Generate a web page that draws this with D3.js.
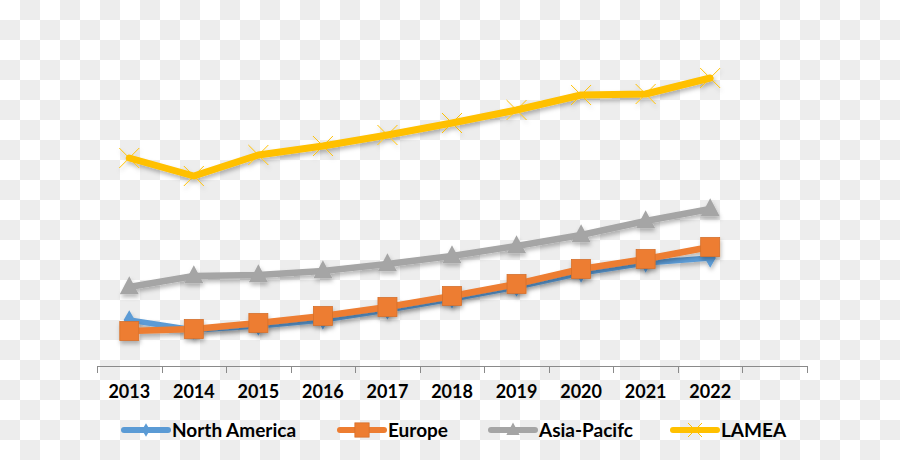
<!DOCTYPE html>
<html><head><meta charset="utf-8">
<script src="https://cdn.jsdelivr.net/npm/d3@7/dist/d3.min.js"></script>
<style>html,body{margin:0;padding:0;}svg{display:block;}</style>
</head><body>
<svg id="chart" width="900" height="460"></svg>
<script>
const years = ["2013","2014","2015","2016","2017","2018","2019","2020","2021","2022"];
const northAmerica = [10.0, 9.0, 9.4, 10.0, 11.0, 12.1, 13.3, 14.7, 15.7, 16.2];
const europe       = [8.9, 9.1, 9.7, 10.4, 11.3, 12.4, 13.6, 15.1, 16.1, 17.3];
const asiaPacific  = [13.3, 14.4, 14.5, 14.9, 15.6, 16.4, 17.4, 18.5, 19.9, 21.1];
const lamea        = [26.2, 24.4, 26.5, 27.4, 28.5, 29.7, 31.0, 32.5, 32.6, 34.2];
const seriesNames  = ["North America", "Europe", "Asia-Pacifc", "LAMEA"];

const W = 900, H = 460;
const svg = d3.select("#chart");
const defs = svg.append("defs");
const pat = defs.append("pattern").attr("id","checker").attr("patternUnits","userSpaceOnUse")
  .attr("width",40).attr("height",40);
pat.append("rect").attr("width",40).attr("height",40).attr("fill","#ffffff");
pat.append("rect").attr("x",20).attr("y",0).attr("width",20).attr("height",20).attr("fill","#ededed");
pat.append("rect").attr("x",0).attr("y",20).attr("width",20).attr("height",20).attr("fill","#ededed");
svg.append("rect").attr("width",W).attr("height",H).attr("fill","url(#checker)");

const f = defs.append("filter").attr("id","shadow").attr("x","-50%").attr("y","-50%").attr("width","200%").attr("height","200%");
f.append("feDropShadow").attr("dx",1).attr("dy",3).attr("stdDeviation",2).attr("flood-color","#000").attr("flood-opacity",0.28);

const x = d3.scaleBand().domain(years.concat([" "])).range([97, 807]);
const y = d3.scaleLinear().domain([0, 35]).range([420, 70]);

// axis
const axisY = 366;
const g = svg.append("g");
g.append("line").attr("x1",x.range()[0]).attr("x2",x.range()[1]).attr("y1",axisY+0.5).attr("y2",axisY+0.5)
  .attr("stroke","#8a8a8a").attr("stroke-width",1);
const bounds = x.domain().map(d => x(d)).concat([x.range()[1]]);
g.selectAll("line.tick").data(bounds).enter().append("line")
  .attr("x1",d=>Math.round(d)+0.5).attr("x2",d=>Math.round(d)+0.5).attr("y1",axisY).attr("y2",axisY+7)
  .attr("stroke","#8a8a8a").attr("stroke-width",1);
const ax = d3.axisBottom(x).tickSize(0).tickValues(years);
const axG = svg.append("g").attr("transform",`translate(0,${axisY})`).call(ax);
axG.select(".domain").remove();
axG.selectAll("text").attr("y",0).attr("dy","32px")
  .style("font-family","Lato, 'Open Sans', sans-serif").style("font-weight","bold").style("font-size","18px").attr("fill","#000");

const series = [
  {name: seriesNames[0], values: northAmerica, color:"#5B9BD5", width:5.5, marker:"diamond"},
  {name: seriesNames[1], values: europe, color:"#ED7D31", width:6.5, marker:"square"},
  {name: seriesNames[2], values: asiaPacific, color:"#A5A5A5", width:6.5, marker:"triangle"},
  {name: seriesNames[3], values: lamea, color:"#FFC000", width:7, marker:"x"}
];
const cx = d => x(d) + x.bandwidth()/2;
const line = d3.line().x(d=>cx(d.year)).y(d=>y(d.v));

function drawMarker(sel, type, color, scale) {
  scale = scale || 1;
  if (type === "diamond") {
    sel.append("path").attr("d", d3.symbol().type(d3.symbolDiamond).size(110*scale*scale)).attr("fill",color);
  } else if (type === "square") {
    const s = 19*scale;
    sel.append("rect").attr("x",-s/2).attr("y",-s/2).attr("width",s).attr("height",s).attr("fill",color)
      .attr("stroke", d3.color(color).darker(0.3)).attr("stroke-width",0.8);
  } else if (type === "triangle") {
    const w = 19*scale, h = 18*scale;
    sel.append("path").attr("d",`M0,${-h*0.6}L${w/2},${h*0.4}L${-w/2},${h*0.4}Z`).attr("fill",color);
  } else if (type === "x") {
    const r = 10*scale;
    sel.append("path").attr("d",`M${-r},${-r}L${r},${r}M${-r},${r}L${r},${-r}`)
      .attr("stroke",color).attr("stroke-width",1).attr("fill","none");
  }
}

series.forEach(s => {
  const pts = years.map((yr,i)=>({year:yr, v:s.values[i]}));
  const sg = svg.append("g").attr("filter","url(#shadow)");
  sg.append("path").datum(pts).attr("d",line).attr("fill","none").attr("stroke",s.color)
    .attr("stroke-width",s.width).attr("stroke-linejoin","round").attr("stroke-linecap","round");
  sg.selectAll("g.m").data(pts).enter().append("g")
    .attr("transform",d=>`translate(${cx(d.year)},${y(d.v)})`)
    .each(function(){ drawMarker(d3.select(this), s.marker, s.color); });
});

// legend
const legendX = [124, 340, 491, 673];
const legY = 430;
series.forEach((s,i) => {
  const lg = svg.append("g").attr("transform",`translate(${legendX[i]},${legY})`);
  lg.append("line").attr("x1",0).attr("x2",44).attr("y1",0).attr("y2",0).attr("stroke",s.color)
    .attr("stroke-width",6).attr("stroke-linecap","round");
  const mg = lg.append("g").attr("transform","translate(22,0)");
  drawMarker(mg, s.marker, s.color, s.marker==="square"?0.75:0.7);
  lg.append("text").attr("x",48).attr("y",6.5).text(s.name)
    .style("font-family","Lato, 'Open Sans', sans-serif").style("font-weight","bold").style("font-size","19px").attr("fill","#000");
});
</script>
</body></html>
